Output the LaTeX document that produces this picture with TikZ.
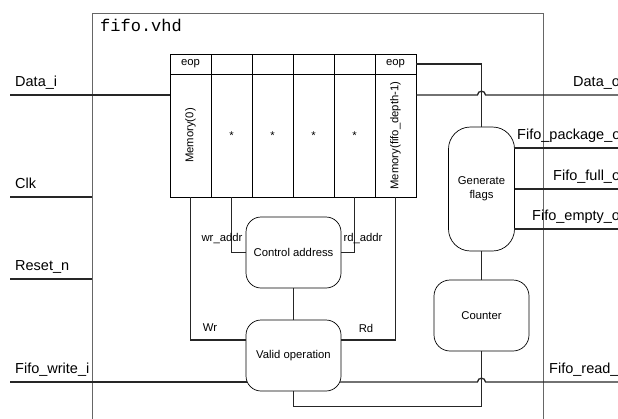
\documentclass[tikz,border=0pt]{standalone}
\usepackage{graphicx}
\usepackage{fontspec}
\setmainfont{Liberation Sans}
\newfontfamily\vhdfont{Liberation Mono}
\begin{document}
\begin{tikzpicture}[x=1pt, y=-1pt,
  wire/.style={line width=1.3pt, black!85},
  block/.style={draw, line width=0.7pt, rounded corners=15pt, align=center, inner sep=0pt, font=\fontsize{11.3}{14}\selectfont},
  cell/.style={draw, line width=0.7pt, minimum width=41pt, inner sep=0pt, font=\fontsize{11.3}{13}\selectfont},
  sig/.style={anchor=base west, inner sep=0pt, font=\fontsize{14.5}{17}\selectfont},
  tag/.style={inner sep=0pt, font=\fontsize{11.3}{13}\selectfont}]
\useasboundingbox (0,0) rectangle (618,418);
\clip (0,0) rectangle (618,418);
% entity frame
\node[draw, gray!80!black, line width=0.6pt, minimum width=451pt, minimum height=430pt, inner sep=0pt] (fifo) at (317.5,228) {};
\node[anchor=base west, inner sep=0pt, font=\vhdfont\fontsize{17}{20}\selectfont] (title) at (100,31) {fifo.vhd};
% memory array
\node[cell, minimum height=20pt] (h0) at (190.5,64) {eop};
\node[cell, minimum height=123pt] (m0) at (190.5,135.5) {\rotatebox{90}{Memory(0)}};
\foreach \i/\x in {1/231.5, 2/272.5, 3/313.5, 4/354.5} {
  \node[cell, minimum height=20pt] (h\i) at (\x,64) {};
  \node[cell, minimum height=123pt] (m\i) at (\x,135.5) {*};
}
\node[cell, minimum height=20pt] (h5) at (395.5,64) {eop};
\node[cell, minimum height=123pt] (m5) at (395.5,135.5) {\rotatebox{90}{Memory(fifo\_depth-1)}};
% blocks
\node[block, minimum width=95pt, minimum height=71pt] (ctrl) at (293.5,252.5) {Control address};
\node[block, minimum width=95pt, minimum height=71pt] (valid) at (293.5,355.5) {Valid operation};
\node[block, rounded corners=22pt, minimum width=66pt, minimum height=124pt] (flags) at (481.5,189) {Generate\\flags};
\node[block, rounded corners=16pt, minimum width=95pt, minimum height=71pt] (counter) at (481.5,315.5) {Counter};
% inputs
\node[sig] (datai) at (15,86) {Data\_i};
\node[sig] (clk) at (15,188) {Clk};
\node[sig] (reset) at (15,270) {Reset\_n};
\node[sig] (write) at (15,373) {Fifo\_write\_i};
\coordinate (datai-in) at (10,95);
\coordinate (clk-in) at (10,197);
\coordinate (reset-in) at (10,279);
\coordinate (write-in) at (10,382);
\draw[wire] (datai-in) -- (m0.west |- datai-in);
\draw[wire] (clk-in) -- (fifo.west |- clk-in);
\draw[wire] (reset-in) -- (fifo.west |- reset-in);
\draw[wire, shorten >=-1.5pt] (write-in) -- (valid.west |- write-in);
% outputs
\node[sig] (datao) at (573,86) {Data\_o};
\node[sig] (pkg) at (517,139) {Fifo\_package\_o};
\node[sig] (full) at (553,180) {Fifo\_full\_o};
\node[sig] (empty) at (532,220) {Fifo\_empty\_o};
\node[sig] (read) at (549,373) {Fifo\_read\_};
\coordinate (datao-out) at (625,95);
\coordinate (pkg-out) at (625,148);
\coordinate (full-out) at (625,189);
\coordinate (empty-out) at (625,229);
\coordinate (read-out) at (625,382);
\draw[wire] (m5.east |- datao-out) -- (477.5,95) .. controls (477.5,90) and (485.5,90) .. (485.5,95) -- (datao-out);
\draw[wire] (h5.east) -| (flags.north);
\draw[wire, shorten <=-1pt] (flags.east |- pkg-out) -- (pkg-out);
\draw[wire] (flags.east |- full-out) -- (full-out);
\draw[wire, shorten <=-1pt] (flags.east |- empty-out) -- (empty-out);
\draw[wire, shorten <=-1.5pt] (valid.east |- read-out) -- (477.5,382) .. controls (477.5,377) and (485.5,377) .. (485.5,382) -- (read-out);
% internal control
\coordinate (op-lvl) at (0,340);
\draw[wire] (m0.south) |- (valid.west |- op-lvl);
\draw[wire] (m1.south) |- (ctrl.west);
\draw[wire] (m4.south) |- (ctrl.east);
\draw[wire] (m5.south) |- (valid.east |- op-lvl);
\draw[wire] (ctrl.south) -- (valid.north);
\draw[wire] (flags.south) -- (counter.north);
\draw[wire] (valid.south) -- ++(0,15) -| (counter.south);
\node[tag] (wraddr) at (222,239) {wr\_addr};
\node[tag] (rdaddr) at (363,239) {rd\_addr};
\node[tag] (wr) at (210,328) {Wr};
\node[tag] (rd) at (366,328) {Rd};
\end{tikzpicture}
\end{document}
